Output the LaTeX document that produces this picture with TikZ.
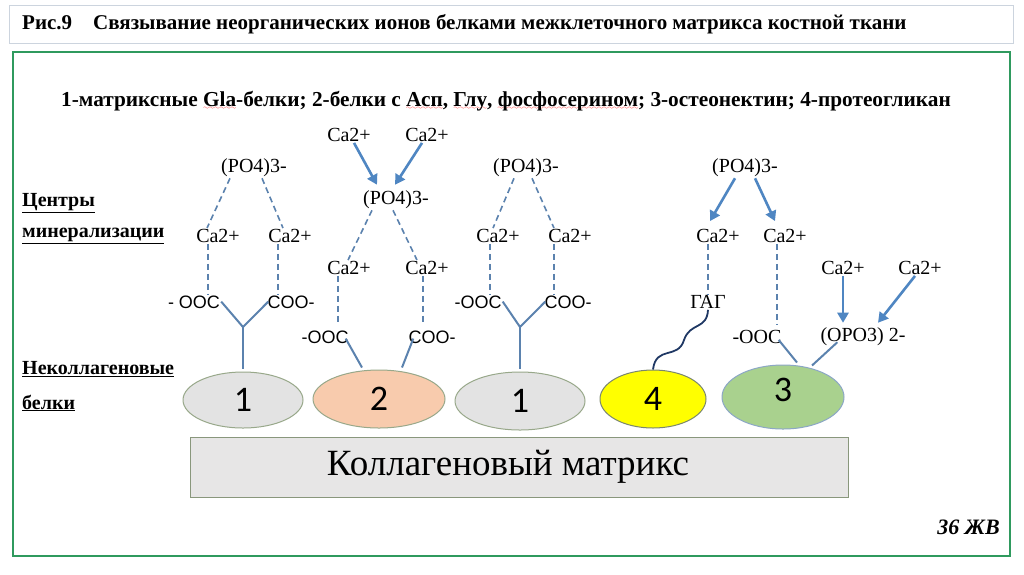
\documentclass[tikz,border=0pt]{standalone}
\usepackage{fontspec}
\setmainfont{Liberation Serif}
\setsansfont{Liberation Sans}
\newfontfamily\numfont{Carlito}
\usetikzlibrary{arrows.meta, positioning, calc, shapes.geometric}
\definecolor{framegreen}{HTML}{2F9A5E}
\definecolor{titleline}{HTML}{CCD4DE}
\definecolor{bondblue}{HTML}{5B82AE}
\definecolor{arrowblue}{HTML}{4F86C2}
\definecolor{gagblue}{HTML}{1F3864}
\definecolor{protline}{HTML}{98A88A}
\definecolor{protgray}{HTML}{E3E3E3}
\definecolor{protpeach}{HTML}{F8CBAD}
\definecolor{protyellow}{HTML}{FFFF00}
\definecolor{protgreen}{HTML}{A9D18E}
\definecolor{matfill}{HTML}{E7E6E6}
\font\wavefont=lasy6
\newcommand{\redwave}[1]{\setbox0\hbox{#1}\rlap{\lower3.5pt\hbox to \wd0{\color{red}\xleaders\hbox{\wavefont\char58}\hfill}}\box0}

\begin{document}
\begin{tikzpicture}[x=1pt, y=-1pt,
  ion/.style={font=\fontsize{20}{22}\selectfont, inner sep=1pt},
  grp/.style={font=\sffamily\fontsize{18}{20}\selectfont, inner sep=1pt},
  side/.style={anchor=west, font=\bfseries\fontsize{20}{22}\selectfont, inner sep=0pt},
  prot/.style={ellipse, draw=protline, line width=1pt, inner sep=0pt,
    font=\numfont\fontsize{36}{36}\selectfont},
  dline/.style={draw=bondblue, dash pattern=on 6pt off 4pt, line width=1.6pt},
  bond/.style={draw=bondblue, line width=2pt},
  arr/.style={draw=arrowblue, line width=2.6pt, -{Triangle[length=10pt, width=11pt]}}]
  \useasboundingbox (0,0) rectangle (1024,574);
  \fill[white] (0,0) rectangle (1024,574);
  % title
  \draw[titleline, fill=white] (9,5) rectangle (1013,43);
  \node[anchor=west, font=\bfseries\fontsize{21}{23}\selectfont, inner sep=0pt] (title) at (22,24)
    {Рис.9\quad Связывание неорганических ионов белками межклеточного матрикса костной ткани};
  \draw[framegreen, line width=2.5pt] (13,52) rectangle (1010,556);
  \node[font=\bfseries\fontsize{21.3}{23}\selectfont] (legend) at (506,101)
    {1-матриксные \redwave{Gla}-белки; 2-белки с \redwave{Асп}, \redwave{Глу}, \redwave{фосфосерином}; 3-остеонектин; 4-протеогликан};
  \node[side] (centr) at (22,203) {\underline{Центры}};
  \node[side] (miner) at (22,236) {\underline{минерализации}};
  \node[side] (nekol) at (22,369) {\underline{Неколлагеновые}};
  \node[side] (belki) at (22,403) {\underline{белки}};
  % 1 - Gla
  \node[ion] (po1) at (254,168) {(PO4)3-};
  \node[ion] (ca1l) at (218,236) {Ca2+};
  \node[ion] (ca1r) at (290,236) {Ca2+};
  \node[grp] (ooc1) at (194,302) {- OOC};
  \node[grp] (coo1) at (291,302) {COO-};
  \node[prot, fill=protgray, minimum width=120pt, minimum height=56pt] (b1) at (243,400) {1};
  \coordinate (y1) at (243,327);
  \draw[dline] ([xshift=-24pt]po1.south) -- ([xshift=-11pt]ca1l.north);
  \draw[dline] ([xshift=8pt]po1.south) -- ([xshift=-7pt]ca1r.north);
  \draw[dline] ([xshift=-10pt]ca1l.south) -- ([xshift=-10pt]ca1l.south |- ooc1.north);
  \draw[dline] ([xshift=-12pt]ca1r.south) -- ([xshift=-12pt]ca1r.south |- coo1.north);
  \draw[bond] ([shift={(0pt,8pt)}]ooc1.south east) -- (y1) -- ([shift={(2pt,8pt)}]coo1.south west);
  \draw[bond, shorten >=3pt] (y1) -- (b1.north);
  % 2 - Asp, Glu
  \node[ion] (ca2t1) at (349,135) {Ca2+};
  \node[ion] (ca2t2) at (427,135) {Ca2+};
  \node[ion] (po2) at (396,200) {(PO4)3-};
  \node[ion] (ca2l) at (349,268) {Ca2+};
  \node[ion] (ca2r) at (427,268) {Ca2+};
  \node[grp] (ooc2) at (325,337) {-OOC};
  \node[grp] (coo2) at (432,337) {COO-};
  \node[prot, fill=protpeach, minimum width=132pt, minimum height=58pt] (b2) at (379,399) {2};
  \draw[arr] ([xshift=5pt]ca2t1.south) -- ([xshift=-19pt, yshift=5pt]po2.north);
  \draw[arr] ([xshift=-5pt]ca2t2.south) -- ([xshift=-1pt, yshift=5pt]po2.north);
  \draw[dline] ([xshift=-24pt]po2.south) -- ([xshift=-1pt]ca2l.north);
  \draw[dline] ([xshift=-3pt]po2.south) -- ([xshift=-10pt]ca2r.north);
  \draw[dline] ([xshift=-11pt]ca2l.south) -- ([xshift=-11pt, yshift=4pt]ca2l.south |- ooc2.north);
  \draw[dline] ([xshift=-4pt]ca2r.south) -- ([xshift=-4pt, yshift=4pt]ca2r.south |- coo2.north);
  \draw[bond] ([shift={(-4pt,6pt)}]ooc2.south east) -- ([xshift=-17pt, yshift=2pt]b2.north);
  \draw[bond] ([shift={(6pt,6pt)}]coo2.south west) -- ([xshift=23pt, yshift=2pt]b2.north);
  % 1 - Gla
  \node[ion] (po3) at (526,168) {(PO4)3-};
  \node[ion] (ca3l) at (498,236) {Ca2+};
  \node[ion] (ca3r) at (570,236) {Ca2+};
  \node[grp] (ooc3) at (478,302) {-OOC};
  \node[grp] (coo3) at (568,302) {COO-};
  \node[prot, fill=protgray, minimum width=130pt, minimum height=58pt] (b3) at (520,401) {1};
  \coordinate (y3) at (520,327);
  \draw[dline] ([xshift=-12pt]po3.south) -- ([xshift=-5pt]ca3l.north);
  \draw[dline] ([xshift=6pt]po3.south) -- ([xshift=-16pt]ca3r.north);
  \draw[dline] ([xshift=-8pt]ca3l.south) -- ([xshift=-8pt]ca3l.south |- ooc3.north);
  \draw[dline] ([xshift=-16pt]ca3r.south) -- ([xshift=-16pt]ca3r.south |- coo3.north);
  \draw[bond] ([shift={(0pt,8pt)}]ooc3.south east) -- (y3) -- ([shift={(2pt,8pt)}]coo3.south west);
  \draw[bond, shorten >=3pt] (y3) -- (b3.north);
  % 4 - proteoglycan
  \node[ion] (po4) at (745,168) {(PO4)3-};
  \node[ion] (ca4l) at (718,236) {Ca2+};
  \node[ion] (ca4r) at (785,236) {Ca2+};
  \node[ion] (gag) at (708,302) {ГАГ};
  \node[prot, fill=protyellow, draw=protline!80!black, minimum width=106pt, minimum height=58pt] (b4) at (653,399) {4};
  \draw[arr] ([xshift=-10pt]po4.south) -- ([xshift=-8pt, yshift=7pt]ca4l.north);
  \draw[arr] ([xshift=10pt]po4.south) -- ([xshift=-10pt, yshift=7pt]ca4r.north);
  \draw[dline] ([xshift=-10pt]ca4l.south) -- ([xshift=-10pt]ca4l.south |- gag.north);
  \draw[gagblue, line width=1.8pt] (gag.south) .. controls (707,330) and (690,322) .. (684,340)
    .. controls (678,360) and (656,345) .. (b4.north);
  % 3 - osteonectin
  \node[ion] (ooc5) at (757,337) {-OOC};
  \node[ion] (opo) at (863,337) {(OPO3) 2-};
  \node[ion] (ca5l) at (843,268) {Ca2+};
  \node[ion] (ca5r) at (920,268) {Ca2+};
  \node[prot, fill=protgreen, draw=bondblue!70, minimum width=122pt, minimum height=64pt] (b5) at (783,397) {};
  \node[font=\numfont\fontsize{36}{36}\selectfont, inner sep=0pt] (n5) at ([yshift=7pt]b5.center) {3};
  \draw[dline] ([xshift=-8pt]ca4r.south) -- ([xshift=-8pt, yshift=4pt]ca4r.south |- ooc5.north);
  \draw[arr] (ca5l.south) -- ([xshift=-20pt, yshift=4pt]opo.north);
  \draw[arr] ([xshift=-5pt]ca5r.south) -- ([xshift=15pt, yshift=4pt]opo.north);
  \draw[bond] ([shift={(-4pt,5pt)}]ooc5.south east) -- ([xshift=14pt, yshift=2pt]b5.north);
  \draw[bond] ([shift={(18pt,5pt)}]opo.south west) -- ([xshift=29pt, yshift=-1pt]b5.north);
  % collagen
  \node[draw=protline!90!black, fill=matfill, line width=1pt, minimum width=658pt, minimum height=60pt,
    font=\fontsize{37}{40}\selectfont] (mat) at (519,467) {Коллагеновый матрикс\kern22pt};
  \node[anchor=east, font=\bfseries\itshape\fontsize{22}{24}\selectfont, inner sep=0pt] (sign) at (1000,527) {36 ЖВ};
\end{tikzpicture}
\end{document}
